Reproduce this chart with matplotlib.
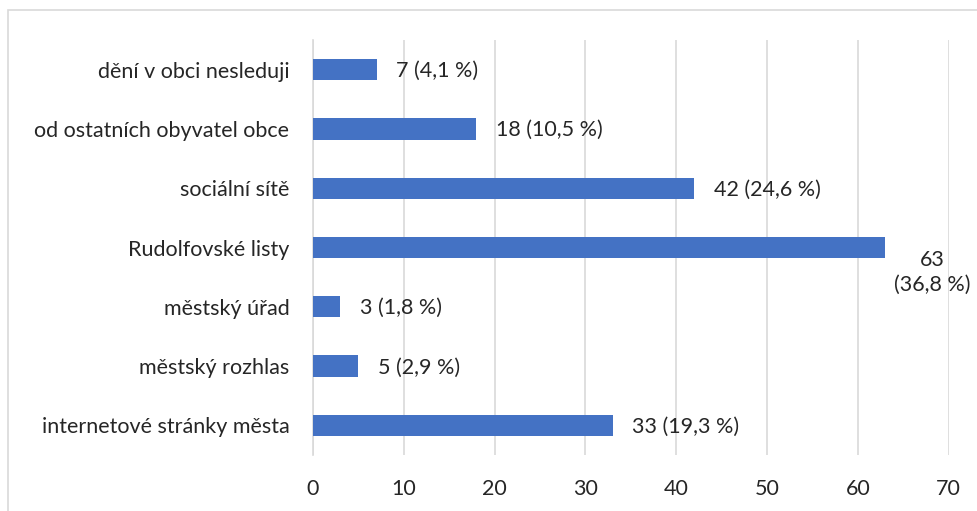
import matplotlib.pyplot as plt
from matplotlib.patches import Rectangle

categories = [
    "internetové stránky města",
    "městský rozhlas",
    "městský úřad",
    "Rudolfovské listy",
    "sociální sítě",
    "od ostatních obyvatel obce",
    "dění v obci nesleduji",
]
counts = [33, 5, 3, 63, 42, 18, 7]
shares = ["19,3", "2,9", "1,8", "36,8", "24,6", "10,5", "4,1"]
ticks = [0, 10, 20, 30, 40, 50, 60, 70]

plt.rcParams["font.family"] = ["Lato", "DejaVu Sans"]
fs = 15.5

fig = plt.figure(figsize=(9.78, 5.11), dpi=100)
ax = fig.add_axes([0.320, 0.1096, 0.650, 0.8121])

pos = list(range(len(categories)))
ax.barh(pos, counts, height=0.36, color="#4472C4", zorder=3)

for y, c, s in zip(pos, counts, shares):
    if c > 60:
        # this one is wrapped below the bar end, like in the source
        ax.annotate(f"{c}\n({s} %)", (c, y), xytext=(34, -18), textcoords="offset points",
                    ha="center", va="center", fontsize=fs, color="#262626",
                    linespacing=1.3)
    else:
        ax.annotate(f"{c} ({s} %)", (c, y), xytext=(14, -1), textcoords="offset points",
                    ha="left", va="center", fontsize=fs, color="#262626")

ax.set_xlim(0, 70)
ax.set_ylim(-0.5, len(categories) - 0.5)
ax.set_xticks(ticks)
ax.set_yticks(pos)
ax.set_yticklabels(categories)
ax.tick_params(axis="both", length=0, labelsize=fs, colors="#262626")
ax.tick_params(axis="y", pad=17)
ax.tick_params(axis="x", pad=17)
ax.grid(axis="x", color="#d9d9d9", linewidth=1.2, zorder=0)
for sp in ["top", "right", "bottom"]:
    ax.spines[sp].set_visible(False)
ax.spines["left"].set_color("#d9d9d9")
ax.spines["left"].set_linewidth(1.2)

fig.patches.append(Rectangle((8 / 978, -0.1), 1.2, 1.1 - 10 / 511,
                             transform=fig.transFigure, fill=False,
                             edgecolor="#d9d9d9", linewidth=1.2))

fig.savefig("out.png", dpi=100)
